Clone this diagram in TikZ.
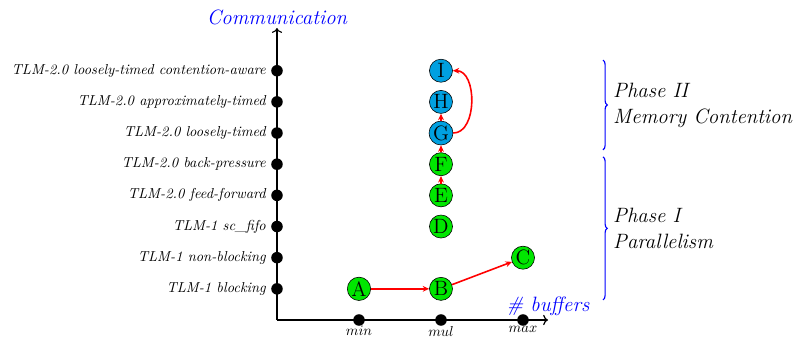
\documentclass[tikz,border=0pt]{standalone}
\usepackage{amsmath,amssymb}
\usepackage{xcolor}
\usepackage{tikz}
\usetikzlibrary{arrows.meta,positioning,decorations.pathreplacing}
\definecolor{skyc}{HTML}{00A0E0}
\definecolor{leafc}{HTML}{00E600}

\tikzset{
  tick/.style={circle, fill=black, inner sep=0pt, minimum size=8pt},
  model/.style={circle, draw=black, inner sep=0.5pt, minimum size=16pt, font=\Large},
  flow/.style={red, line width=1.1pt, -{Stealth[length=4.5pt,width=4pt]}},
  phase/.style={blue, thick, decorate, decoration={brace, amplitude=3pt}},
}

\begin{document}
\begin{tikzpicture}[y=1cm, x=1cm]
\useasboundingbox (-6.756,-0.439) rectangle (12.854,7.805);

% ---- axes ----
\coordinate (o) at (0,0);
\draw[thick, ->] (o) -- (0,7.12) node[above=-1.5pt, blue, font=\Large\itshape] (yname) {Communication};
\draw[thick, ->] (o) -- (6.61,0) node[above=-1pt, blue, font=\Large\itshape] (xname) {\# buffers};

% communication levels, one every 0.76cm
\foreach \k/\txt in {1/TLM-1 blocking, 2/TLM-1 non-blocking, 3/TLM-1 sc\_fifo,
    4/TLM-2.0 feed-forward, 5/TLM-2.0 back-pressure, 6/TLM-2.0 loosely-timed,
    7/TLM-2.0 approximately-timed, 8/TLM-2.0 loosely-timed contention-aware}
  \node[tick, label={[font=\itshape]left:\txt}] (c\k) at (0,0.76*\k) {};

% buffer counts
\foreach \i/\txt in {1/min, 2/mul, 3/max}
  \node[tick, label={[label distance=-3.5pt]below:$\txt$}] (b\i) at (2*\i,0) {};

% ---- design points ----
\node[model, fill=leafc] (A) at (2,0.76) {A};
\node[model, fill=leafc] (B) at (4,0.76) {B};
\node[model, fill=leafc] (C) at (6,1.52) {C};
\node[model, fill=leafc] (D) at (4,2.28) {D};
\node[model, fill=leafc] (E) at (4,3.04) {E};
\node[model, fill=leafc] (F) at (4,3.80) {F};
\node[model, fill=skyc]  (G) at (4,4.56) {G};
\node[model, fill=skyc]  (H) at (4,5.32) {H};
\node[model, fill=skyc]  (I) at (4,6.08) {I};

\draw[flow] (A) -- (B);
\draw[flow] (B) -- (C);
\draw[flow] (E) -- (F);
\draw[flow] (F) -- (G);
\draw[flow] (G) -- (H);
\draw[flow] (G.east) to[out=0, in=0] (I.east);

% ---- phases ----
\coordinate (p2top) at (7.95,6.34);
\coordinate (p2bot) at (7.95,4.15);
\coordinate (p1top) at (7.95,3.98);
\coordinate (p1bot) at (7.95,0.49);
\draw[phase] (p2top) -- (p2bot)
  node[midway, right=0.12cm, align=left, text=black, font=\Large\itshape] (p2) {Phase II\\Memory Contention};
\draw[phase] (p1top) -- (p1bot)
  node[midway, right=0.12cm, align=left, text=black, font=\Large\itshape] (p1) {Phase I\\Parallelism};
\end{tikzpicture}
\end{document}
